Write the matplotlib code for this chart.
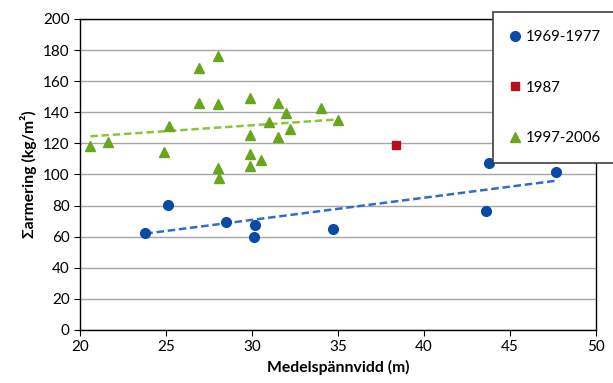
import numpy as np
import matplotlib
matplotlib.use("Agg")
import matplotlib.pyplot as plt

plt.rcParams["font.family"] = ["Lato", "DejaVu Sans"]

# 1969-1977
x_6977 = [23.8, 25.1, 28.5, 30.2, 30.1, 34.7, 43.8, 43.6, 47.7]
y_6977 = [62.6, 80.4, 69.5, 67.7, 60.0, 65.0, 107.2, 76.5, 101.8]

# 1987
x_87 = [38.4]
y_87 = [119.2]

# 1997-2006
x_9706 = [20.6, 21.6, 24.9, 25.2, 26.9, 26.9, 28.0, 28.0, 28.0, 28.1, 29.9,
          29.9, 29.9, 29.9, 30.5, 31.0, 31.5, 31.5, 32.0, 32.2, 34.0, 35.0]
y_9706 = [118.5, 120.7, 114.7, 131.2, 168.3, 146.2, 176.2, 145.3, 104.4, 98.0,
          149.4, 125.4, 113.0, 105.7, 109.5, 133.8, 146.2, 124.1, 139.8, 129.5,
          142.8, 135.0]

c_blue = "#0a4aa6"
c_red = "#b5121b"
c_green = "#6aa51e"

fig = plt.figure(figsize=(6.13, 3.83), dpi=100)
ax = fig.add_axes([0.1305, 0.1384, 0.8418, 0.812])

ax.plot(x_6977, y_6977, "o", color=c_blue, ms=7, label="1969-1977", zorder=3)
ax.plot(x_87, y_87, "s", color=c_red, ms=6, label="1987", zorder=3)
ax.plot(x_9706, y_9706, "^", color=c_green, ms=7.5, label="1997-2006", zorder=3)

# linear trend lines
for xs, ys, col in [(x_6977, y_6977, "#2f6bd0"), (x_9706, y_9706, "#8cc43c")]:
    k, m = np.polyfit(xs, ys, 1)
    xx = np.array([min(xs), max(xs)])
    ax.plot(xx, k * xx + m, "--", color=col, lw=1.8, dashes=(3, 1.5), zorder=2)

ax.set_xlim(20, 50)
ax.set_ylim(0, 200)
ax.set_xticks(range(20, 51, 5))
ax.set_yticks(range(0, 201, 20))
ax.yaxis.grid(True, color="#a6a6a6", lw=1)
ax.set_axisbelow(True)
for s in ax.spines.values():
    s.set_color("black")
    s.set_linewidth(1)
ax.tick_params(direction="out", length=4, labelsize=11, colors="black")

ax.set_xlabel("Medelspännvidd (m)", fontsize=11.3, fontweight="bold")
ax.set_ylabel("Σarmering (kg/m²)", fontsize=11.3, fontweight="bold")

leg = fig.legend(loc="upper left", bbox_to_anchor=(0.804, 0.969, 0.25, 0.0),
                 mode="expand", fontsize=10.8, labelspacing=2.45,
                 handlelength=0.6, handletextpad=0.4, borderpad=1.2,
                 borderaxespad=0,
                 frameon=True, fancybox=False, framealpha=1, edgecolor="#404040")
leg.get_frame().set_linewidth(1.2)

fig.savefig("out.png", dpi=100)
